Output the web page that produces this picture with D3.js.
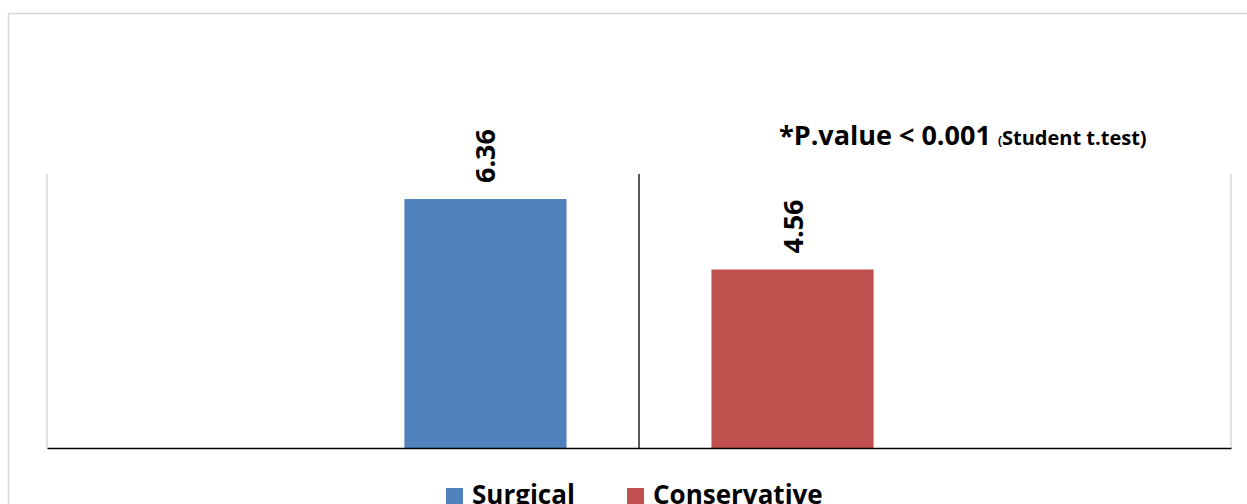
<!DOCTYPE html>
<html>
<head>
<meta charset="utf-8">
<script src="https://cdn.jsdelivr.net/npm/d3@7"></script>
<style>
  html, body { margin: 0; padding: 0; background: #fff; overflow: hidden; }
  svg { display: block; font-family: "Open Sans", Lato, "Liberation Sans", sans-serif; }
</style>
</head>
<body>
<svg id="chart" width="1247" height="504"></svg>
<script>
// Mean scores by treatment group
const categories = ["Group"];
const seriesNames = ["Surgical", "Conservative"];
const seriesValues = [6.36, 4.56];
const seriesColors = ["#4f81bd", "#c0504d"];
const yTicks = [0, 7];

const svg = d3.select("#chart");
const W = 1247, H = 504;
const plot = { left: 47, right: 1231, top: 174, bottom: 448 };

// chart frame
svg.append("rect")
  .attr("x", 8.5).attr("y", 13.5)
  .attr("width", W).attr("height", H)
  .attr("fill", "#fff").attr("stroke", "#d9d9d9").attr("stroke-width", 1.5);

const x0 = d3.scaleBand().domain(categories).range([plot.left, plot.right]).paddingInner(0).paddingOuter(0);
const x1 = d3.scaleBand().domain(seriesNames).range([0, x0.bandwidth()]).paddingInner(0.472).paddingOuter(1.164);
const y = d3.scaleLinear().domain([yTicks[0], yTicks[1]]).range([plot.bottom, plot.top]);

// plot area side edges
[plot.left, plot.right].forEach(px => {
  svg.append("line")
    .attr("x1", px).attr("x2", px)
    .attr("y1", plot.top).attr("y2", plot.bottom)
    .attr("stroke", "#d9d9d9").attr("stroke-width", 1.5);
});

const g = svg.append("g");
const data = seriesNames.map((s, i) => ({ name: s, value: seriesValues[i], color: seriesColors[i] }));

// bars
g.selectAll("rect.bar").data(data).enter().append("rect")
  .attr("class", "bar")
  .attr("x", d => x0(categories[0]) + x1(d.name))
  .attr("width", x1.bandwidth())
  .attr("y", d => y(d.value))
  .attr("height", d => y(0) - y(d.value))
  .attr("fill", d => d.color);

// rotated value labels
g.selectAll("text.val").data(data).enter().append("text")
  .attr("class", "val")
  .attr("transform", d => {
    const cx = x0(categories[0]) + x1(d.name) + x1.bandwidth() / 2;
    return `translate(${cx + 10},${y(d.value) - 16}) rotate(-90)`;
  })
  .attr("font-size", 27).attr("font-weight", 700).attr("fill", "#000")
  .text(d => d.value.toFixed(2));

// divider between groups
const mid = x0(categories[0]) + x0.bandwidth() / 2;
svg.append("line")
  .attr("x1", mid).attr("x2", mid)
  .attr("y1", y(yTicks[1])).attr("y2", y(0))
  .attr("stroke", "#000").attr("stroke-width", 1.3);

// baseline axis
const axis = d3.axisBottom(x0).tickSize(0).tickFormat("");
const ax = svg.append("g").attr("transform", `translate(0,${y(0)})`).call(axis);
ax.select(".domain").attr("stroke", "#000").attr("stroke-width", 1.5);

// significance note
const note = svg.append("text")
  .attr("x", 779).attr("y", 145)
  .attr("font-weight", 700).attr("fill", "#000");
note.append("tspan").attr("font-size", 27).text("*P.value < 0.001 ");
note.append("tspan").attr("font-size", 12).text("(");
note.append("tspan").attr("font-size", 20).text("Student t.test)");

// legend
const legendX = [446, 627];
const lg = svg.selectAll("g.leg").data(data).enter().append("g")
  .attr("class", "leg")
  .attr("transform", (d, i) => `translate(${legendX[i]},488)`);
lg.append("rect").attr("width", 17).attr("height", 17).attr("fill", d => d.color);
lg.append("text")
  .attr("x", 26).attr("y", 16)
  .attr("font-size", 26).attr("font-weight", 700).attr("fill", "#000")
  .text(d => d.name);
</script>
</body>
</html>
